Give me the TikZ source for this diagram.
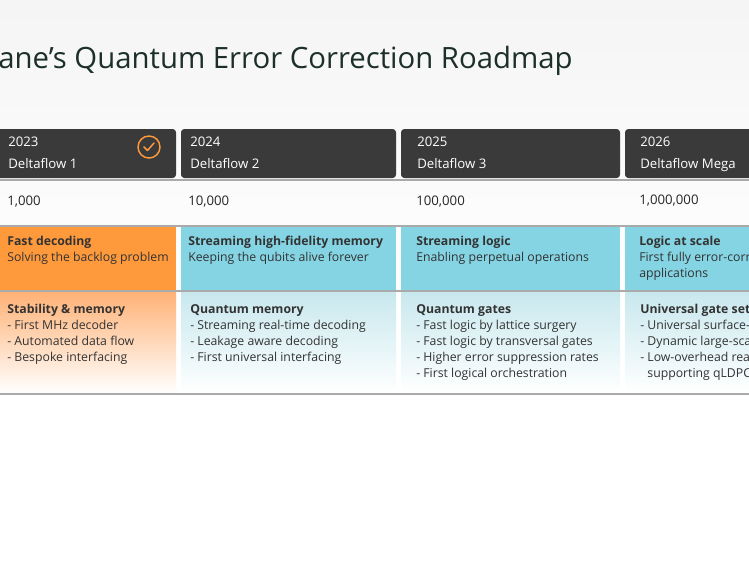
\documentclass[tikz,border=0pt]{standalone}
\usepackage{fontspec}
\setmainfont{Open Sans}
\usetikzlibrary{positioning}
\definecolor{headgray}{RGB}{58,58,58}
\definecolor{titlegreen}{RGB}{28,48,40}
\definecolor{doneorange}{RGB}{255,154,60}
\definecolor{fadeorange}{RGB}{255,178,118}
\definecolor{nextcyan}{RGB}{133,212,227}
\definecolor{fadecyan}{RGB}{200,232,238}
\definecolor{rulegray}{RGB}{170,170,170}
\begin{document}
\begin{tikzpicture}[x=0.75pt,y=-0.75pt,
    head/.style={fill=headgray, rounded corners=2.5pt},
    headtext/.style={anchor=north west, align=left, text=white, font=\fontsize{9.9}{16.5}\selectfont, inner sep=0pt},
    numtext/.style={anchor=west, font=\fontsize{9.9}{12}\selectfont, text=black!85, inner sep=0pt},
    celltext/.style={anchor=north west, align=left, font=\fontsize{9.2}{12}\selectfont, text=black!80, inner sep=0pt},
    rule/.style={draw=rulegray, line width=0.8pt}
]
\useasboundingbox (0,0) rectangle (749,562);
\clip (0,0) rectangle (749,562);
\shade[top color=black!4, bottom color=white] (0,0) rectangle (749,300);
\fill[white] (0,300) rectangle (749,562);

% title
\node[anchor=base east, inner sep=0pt, text=titlegreen, font=\fontsize{22}{26}\selectfont] (title) at (573,68) {Riverlane’s Quantum Error Correction Roadmap};

% header boxes
\fill[head] (-10,129) rectangle (176,178);
\fill[head] (181,129) rectangle (396,178);
\fill[head] (401,129) rectangle (620,178);
\fill[head] (625,129) rectangle (760,178);
\node[headtext] (h23) at (8,137) {2023\\Deltaflow 1};
\node[headtext] (h24) at (190,137) {2024\\Deltaflow 2};
\node[headtext] (h25) at (417,137) {2025\\Deltaflow 3};
\node[headtext] (h26) at (640,137) {2026\\Deltaflow Mega};
\node[circle, draw=doneorange, line width=1.1pt, minimum size=16.5pt, inner sep=0pt] (done) at (149,147) {};
\draw[doneorange, line width=1.1pt, line cap=round, line join=round]
  ([shift={(-5,0)}]done.center) -- ([shift={(-1.5,3.5)}]done.center) -- ([shift={(5,-4)}]done.center);
\draw[rule] (0,180) -- (749,180);

% qubit counts
\node[numtext] (n23) at (7,202) {1,000};
\node[numtext] (n24) at (188,202) {10,000};
\node[numtext] (n25) at (416,202) {100,000};
\node[numtext] (n26) at (639,201) {1,000,000};
\draw[rule] (0,226) -- (749,226);

% milestones
\fill[doneorange] (0,227) rectangle (176,290);
\fill[nextcyan] (181,227) rectangle (396,290);
\fill[nextcyan] (401,227) rectangle (620,290);
\fill[nextcyan] (625,227) rectangle (760,290);
\node[celltext] (m23) at (7,236) {\textbf{Fast decoding}\\Solving the backlog problem};
\node[celltext] (m24) at (188,236) {\textbf{Streaming high-fidelity memory}\\Keeping the qubits alive forever};
\node[celltext] (m25) at (416,236) {\textbf{Streaming logic}\\Enabling perpetual operations};
\node[celltext] (m26) at (639,236) {\textbf{Logic at scale}\\First fully error-corrected\\applications};
\draw[rule] (0,291) -- (749,291);

% capabilities
\shade[top color=fadeorange, bottom color=white] (0,292) rectangle (176,393);
\shade[top color=fadecyan, bottom color=white] (181,292) rectangle (396,393);
\shade[top color=fadecyan, bottom color=white] (401,292) rectangle (620,393);
\shade[top color=fadecyan, bottom color=white] (625,292) rectangle (760,393);
\node[celltext] (c23) at (7,304) {\textbf{Stability \& memory}\\- First MHz decoder\\- Automated data flow\\- Bespoke interfacing};
\node[celltext] (c24) at (190,304) {\textbf{Quantum memory}\\- Streaming real-time decoding\\- Leakage aware decoding\\- First universal interfacing};
\node[celltext] (c25) at (416,304) {\textbf{Quantum gates}\\- Fast logic by lattice surgery\\- Fast logic by transversal gates\\- Higher error suppression rates\\- First logical orchestration};
\node[celltext] (c26) at (640,304) {\textbf{Universal gate set}\\- Universal surface-code gates\\- Dynamic large-scale logic\\- Low-overhead readout\\\phantom{- }supporting qLDPC codes};
\draw[rule] (0,394) -- (749,394);
\end{tikzpicture}
\end{document}
